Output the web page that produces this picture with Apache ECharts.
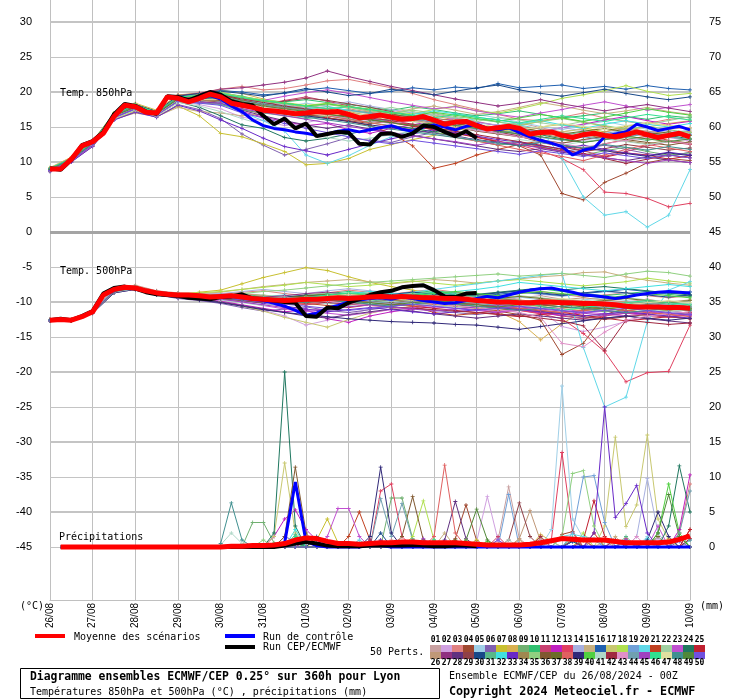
<!DOCTYPE html>
<html><head><meta charset="utf-8">
<script src="https://cdn.jsdelivr.net/npm/echarts@6/dist/echarts.min.js"></script>
<style>html,body{margin:0;padding:0;background:#fff}#c{width:740px;height:700px}</style>
</head><body><div id="c"></div>
<script>
// ---------- DATA ----------
const dateLabels = ['26/08','27/08','28/08','29/08','30/08','31/08','01/09','02/09','03/09','04/09','05/09','06/09','07/09','08/09','09/09','10/09'];
const hours6 = [0,6,12,18,24,30,36,42,48,54,60,66,72,78,84,90,96,102,108,114,120,126,132,138,144,150,156,162,168,174,180,186,192,198,204,210,216,222,228,234,240,246,252,258,264,270,276,282,288,294,300,306,312,318,324,330,336,342,348,354,360];
const hours12 = [0,12,24,36,48,60,72,84,96,108,120,132,144,156,168,180,192,204,216,228,240,252,264,276,288,300,312,324,336,348,360];
const hoursPrecipMembers = [96,102,108,114,120,126,132,138,144,150,156,162,168,174,180,186,192,198,204,210,216,222,228,234,240,246,252,258,264,270,276,282,288,294,300,306,312,318,324,330,336,342,348,354,360];
const hoursPrecip = [6,12,18,24,30,36,42,48,54,60,66,72,78,84,90,96,102,108,114,120,126,132,138,144,150,156,162,168,174,180,186,192,198,204,210,216,222,228,234,240,246,252,258,264,270,276,282,288,294,300,306,312,318,324,330,336,342,348,354,360];
const tempTicks = [30,25,20,15,10,5,0,-5,-10,-15,-20,-25,-30,-35,-40,-45];
const precipTicks = [75,70,65,60,55,50,45,40,35,30,25,20,15,10,5,0];
const memberNames = ['01','02','03','04','05','06','07','08','09','10','11','12','13','14','15','16','17','18','19','20','21','22','23','24','25','26','27','28','29','30','31','32','33','34','35','36','37','38','39','40','41','42','43','44','45','46','47','48','49','50'];
const memberColors = ['#c8a0a0','#d0a0e0','#e08080','#a04830','#a0d0e8','#8060b0','#c8c030','#d8b050','#70b070','#30c070','#c84070','#c020c0','#e04060','#a8b0e0','#c8b080','#2060b0','#c8c870','#b0e050','#70a0d8','#60d8e8','#c04020','#a0d0a0','#c050d0','#207860','#c02030',
 '#c09878','#903080','#603080','#904048','#184888','#58b888','#40e0e0','#6828c8','#a08850','#90d080','#805830','#6c6c28','#e06060','#302878','#50d040','#b0d8c8','#a02840','#e090c8','#70a0b0','#a040c0','#30e090','#e0e0a0','#409090','#508838','#7050e0'];

const mean850 = [9.0,9.0,10.4,12.3,12.9,14.1,16.5,18.1,17.9,17.1,17.0,19.3,19.1,18.6,19.1,19.7,19.3,18.4,18.1,17.8,17.4,17.3,17.1,16.9,17.0,17.2,17.1,17.2,16.8,16.3,16.5,16.7,16.4,16.1,16.2,16.5,16.0,15.4,15.7,15.8,15.2,14.7,14.9,15.1,14.8,14.0,14.2,14.3,13.8,13.5,13.9,14.1,13.8,13.6,13.9,14.3,13.9,13.5,13.8,14.1,13.6];
const ctrl850 = [9.0,9.0,10.3,12.2,12.8,14.0,16.4,18.0,17.8,17.0,16.9,19.2,19.0,18.6,19.0,19.5,19.0,18.0,17.2,16.0,15.2,14.8,14.6,14.3,14.1,13.8,14.0,14.4,14.6,14.3,14.6,14.9,15.2,14.7,14.4,15.0,15.3,15.0,14.6,15.1,15.4,14.8,14.6,14.9,14.2,13.6,13.1,12.7,12.2,11.0,11.7,12.0,13.6,14.0,14.3,15.4,15.0,14.5,14.8,15.1,14.6];
const cep850 = [9.1,8.9,10.3,12.4,13.0,14.3,16.8,18.3,18.0,17.2,16.9,19.4,19.3,18.8,19.4,20.0,19.6,18.7,18.3,18.1,16.6,15.4,16.2,14.8,15.5,13.7,14.0,14.3,14.2,12.6,12.5,14.0,14.1,13.6,14.1,15.2,15.0,14.3,13.7,14.4,13.4];
const mean500 = [-12.6,-12.5,-12.6,-12.1,-11.4,-9.0,-8.2,-7.9,-8.0,-8.4,-8.7,-8.9,-9.0,-9.0,-9.1,-9.3,-9.2,-9.1,-9.3,-9.5,-9.6,-9.7,-9.8,-9.7,-9.6,-9.6,-9.5,-9.4,-9.5,-9.4,-9.3,-9.2,-9.3,-9.2,-9.3,-9.4,-9.4,-9.5,-9.5,-9.6,-9.8,-9.9,-10.0,-10.0,-10.1,-10.1,-10.0,-10.0,-10.1,-10.1,-10.2,-10.2,-10.3,-10.4,-10.6,-10.7,-10.7,-10.7,-10.8,-10.8,-10.9];
const ctrl500 = [-12.6,-12.5,-12.6,-12.1,-11.4,-9.1,-8.3,-8.0,-8.1,-8.5,-8.8,-9.0,-9.1,-9.1,-9.2,-9.4,-9.3,-9.2,-9.4,-9.6,-9.8,-10.2,-10.6,-11.2,-11.9,-11.6,-10.9,-10.5,-10.0,-9.7,-9.5,-9.4,-9.6,-9.3,-9.5,-9.8,-10.0,-10.2,-10.1,-9.8,-9.5,-9.2,-9.4,-9.0,-8.6,-8.3,-8.1,-8.0,-8.3,-8.6,-9.0,-9.1,-9.3,-9.5,-9.3,-9.0,-8.8,-8.6,-8.5,-8.6,-8.7];
const cep500 = [-12.6,-12.4,-12.6,-12.0,-11.3,-8.8,-8.0,-7.8,-8.1,-8.6,-8.9,-9.0,-9.1,-9.4,-9.5,-9.6,-9.3,-9.2,-8.9,-9.5,-9.6,-9.8,-10.0,-10.1,-12.0,-12.1,-10.8,-10.9,-10.1,-9.6,-9.0,-8.6,-8.4,-7.9,-7.7,-7.6,-8.3,-9.2,-9.3,-8.8,-8.7];
const meanPrecip = [0,0,0,0,0,0,0,0,0,0,0,0,0,0,0, 0,0.1,0.1,0.2,0.2,0.3,0.5,1.0,1.3,1.2, 0.8,0.5,0.5,0.4,0.5,0.6,0.6,0.7,0.7,0.6, 0.6,0.6,0.6,0.5,0.4,0.3,0.3,0.3,0.3,0.4, 0.6,0.9,1.2,1.1,1.0,1.0,1.0,0.8,0.6,0.6, 0.6,0.6,0.7,1.1,1.6];
const ctrlPrecip = [0,0,0,0,0,0,0,0,0,0,0,0,0,0,0,0,0,0,0,0, 0.2,0.6,9.3,0.8,0.2, 0,0,0,0,0.3,0.2,0,0,0,0, 0,0,0,0,0,0,0,0,0,0, 0,0,0,0,0,0,0,0,0,0, 0,0,0,0,0];
const cepPrecip = [0,0,0,0,0,0,0,0,0,0,0,0,0,0,0,0,0,0,0,0,0, 0.2,0.5,0.7,0.5,0.2,0.1,0.1,0.1,0.2,0.2,0.2,0.2,0.3,0.2,0.1,0.1,0.2,0.2,0.1];

const t850Members = [
[9.0,10.5,12.5,16.8,18.1,17.0,19.3,19.5,19.8,19.0,18.6,18.2,17.8,17.5,17.9,17.2,16.8,16.5,16.9,16.3,15.8,15.2,15.6,14.9,14.3,14.8,15.1,14.6,14.2,14.7,14.9],
[8.8,10.1,12.9,16.4,17.6,16.8,18.7,18.2,17.6,16.4,15.9,15.2,15.6,16.3,16.0,16.7,17.2,16.5,15.9,15.3,14.6,14.2,13.8,13.2,12.7,13.1,13.6,13.9,14.3,13.5,13.0],
[9.1,10.4,12.8,16.7,18.3,17.2,19.5,19.9,20.4,20.8,20.3,20.5,21.0,21.6,21.8,21.2,20.6,19.8,18.9,18.2,17.5,16.8,16.1,15.9,16.4,17.0,16.3,15.8,15.5,16.1,16.4],
[8.7,10.2,12.6,16.5,17.7,16.8,18.8,18.5,18.7,17.5,16.9,17.2,16.8,16.3,15.9,15.5,15.8,15.2,14.6,14.1,13.6,12.9,12.3,11.0,5.5,4.6,7.1,8.4,9.9,10.5,10.2],
[8.9,10.3,12.6,16.3,17.5,16.6,18.9,19.1,19.5,18.7,18.1,17.9,18.4,18.0,17.3,16.9,17.4,17.0,16.6,16.2,16.8,16.3,15.7,15.1,14.6,15.3,15.8,15.2,14.7,14.1,14.6],
[8.6,10.0,12.3,16.0,17.2,16.4,18.2,17.5,16.2,14.0,12.4,11.0,11.8,12.6,13.5,13.1,12.8,13.6,14.2,13.8,13.1,12.5,12.9,12.2,11.5,11.9,12.4,11.8,11.2,10.8,11.4],
[9.0,10.6,12.4,16.1,17.3,16.5,18.0,16.6,14.1,13.6,12.6,11.5,9.6,9.8,10.5,11.8,12.5,13.2,13.8,14.5,15.0,14.6,14.2,15.0,15.4,14.9,14.3,15.1,15.6,15.2,14.8],
[9.2,10.7,13.0,17.0,18.4,17.4,19.6,19.8,20.3,19.8,19.0,18.4,17.6,17.9,17.2,16.6,15.8,16.1,16.6,16.0,15.3,14.8,15.2,15.8,16.3,15.7,15.1,14.6,15.0,15.5,15.9],
[8.8,10.3,12.7,16.6,17.8,16.9,19.1,19.3,19.6,18.4,17.6,17.0,16.5,16.8,16.2,15.6,15.2,14.8,14.3,13.6,13.0,12.4,12.8,12.2,11.6,11.0,11.6,12.1,11.5,11.0,11.3],
[9.0,10.4,12.8,16.8,18.0,17.1,19.2,19.5,19.9,19.4,18.8,18.6,18.9,18.5,18.2,17.8,17.4,17.9,17.5,17.0,16.6,16.9,17.3,16.8,16.3,16.6,17.0,16.5,16.1,16.6,16.3],
[8.9,10.3,12.6,16.5,17.9,16.8,19.0,19.0,19.4,18.5,18.2,18.8,19.3,18.7,18.0,17.4,16.9,16.2,15.6,15.9,15.1,14.6,13.9,13.2,12.4,11.6,10.8,11.5,12.3,12.9,12.5],
[8.8,10.2,12.5,16.4,17.6,16.7,18.8,18.6,18.3,17.2,16.4,15.8,15.2,15.5,14.6,14.1,14.8,15.3,15.9,16.2,15.7,15.2,14.8,14.3,14.9,15.4,16.0,16.5,15.9,15.4,15.8],
[8.9,10.4,12.7,16.7,18.0,17.0,19.1,19.2,19.0,18.3,17.6,17.3,16.9,16.4,16.8,16.2,15.8,15.3,14.7,14.2,13.6,13.0,12.4,11.6,10.5,8.9,5.7,5.5,4.8,3.6,4.1],
[9.0,10.5,12.8,16.9,18.2,17.1,19.4,19.6,19.8,19.1,18.5,18.1,17.7,18.2,18.6,18.0,17.5,17.0,16.7,16.2,15.6,15.3,14.8,14.4,14.9,14.5,14.0,13.6,14.1,14.5,14.0],
[8.7,10.1,12.2,16.1,17.0,16.5,17.8,17.2,17.0,16.6,16.9,17.5,18.1,17.6,17.0,16.5,17.0,17.6,18.0,17.4,16.8,17.2,17.8,18.5,18.0,17.4,16.9,17.3,17.8,17.2,16.8],
[9.0,10.4,12.9,16.8,18.2,17.2,19.4,19.7,20.2,20.0,19.6,19.8,20.3,20.6,20.2,19.8,20.1,20.6,20.3,20.7,20.5,21.2,20.6,20.8,21.0,20.5,20.8,20.4,20.9,20.5,20.3],
[8.9,10.3,12.6,16.4,17.7,16.8,18.9,18.8,18.9,18.0,17.5,17.7,17.3,16.9,17.4,16.9,16.5,16.0,15.5,15.8,15.3,14.7,14.2,13.8,14.3,14.7,14.1,13.7,13.3,13.8,14.2],
[9.1,10.5,12.9,17.0,18.3,17.3,19.5,19.7,20.0,19.3,18.9,18.5,18.1,18.4,17.9,17.6,17.1,16.9,17.5,18.0,17.3,17.0,17.6,18.3,19.1,19.6,20.2,20.9,20.1,19.5,19.8],
[8.8,10.2,12.4,16.3,17.5,16.6,18.6,18.4,18.6,17.8,17.3,16.8,16.4,16.9,16.5,16.1,15.9,16.3,15.8,15.3,14.7,14.4,14.0,13.5,13.1,13.6,14.1,14.5,14.0,13.6,13.9],
[9.0,10.4,12.7,16.6,17.8,16.8,18.9,18.6,18.3,17.1,15.9,14.4,11.0,9.8,10.9,12.4,13.6,14.5,15.1,15.6,16.2,15.7,15.3,14.7,10.5,5.0,2.4,2.9,0.7,2.4,8.9],
[8.9,10.3,12.6,16.6,17.9,16.9,19.0,19.0,19.1,18.2,17.7,17.3,16.8,16.3,15.8,15.2,14.1,12.3,9.1,9.8,11.0,11.8,12.5,13.0,12.4,11.9,12.6,13.2,13.7,13.1,12.6],
[9.1,10.6,12.9,16.8,18.1,17.2,19.3,19.4,19.6,18.8,18.3,17.9,17.5,17.2,16.8,17.3,17.8,17.2,16.7,16.3,15.8,16.4,16.0,15.6,15.2,15.8,16.3,15.8,15.4,15.9,16.5],
[8.8,10.2,12.5,16.5,17.6,16.7,18.8,18.9,19.3,18.5,18.8,19.4,19.9,20.3,19.8,19.2,18.6,18.1,17.6,17.9,17.3,16.8,16.4,17.0,17.5,18.1,18.6,18.0,17.4,17.8,18.2],
[8.9,10.3,12.7,16.6,17.8,16.9,18.6,17.8,16.6,15.3,14.8,13.5,13.0,13.4,14.0,14.6,15.2,14.8,14.3,14.8,15.3,14.9,14.4,13.9,13.3,12.8,13.3,13.8,14.2,13.8,13.3],
[9.0,10.4,12.8,16.7,18.0,17.1,19.2,19.3,19.5,18.9,18.3,17.8,17.4,16.9,16.5,16.1,15.6,15.1,14.6,14.1,13.5,12.9,12.5,12.1,11.6,11.2,10.7,11.3,11.0,10.4,10.9],
[8.8,10.2,12.3,16.2,17.4,16.6,18.5,18.7,19.0,18.4,17.9,17.3,16.8,17.2,17.6,17.1,16.7,16.3,15.9,15.5,15.0,14.6,15.1,14.7,14.2,13.8,14.3,14.8,14.4,14.0,14.4],
[9.0,10.5,12.8,16.9,18.2,17.2,19.5,19.8,20.4,20.6,21.0,21.4,22.0,23.0,22.2,21.5,20.8,20.2,19.6,19.0,18.5,18.0,18.4,18.9,18.3,17.8,17.3,17.8,18.2,17.7,17.2],
[8.9,10.3,12.6,16.5,17.8,16.8,18.9,18.6,18.4,17.4,16.6,15.9,15.3,14.8,15.3,14.7,14.2,13.8,13.3,12.8,12.3,11.8,11.5,11.9,11.4,11.0,10.6,10.2,10.7,10.3,9.9],
[8.9,10.4,12.7,16.6,18.0,17.0,19.1,19.2,19.4,18.7,18.2,18.7,19.1,18.8,18.3,17.8,17.2,16.6,16.0,15.5,14.9,14.3,13.7,12.8,12.2,11.5,11.9,12.5,12.1,11.7,12.0],
[9.0,10.5,12.9,16.9,18.2,17.2,19.4,19.8,20.1,19.8,19.4,19.9,20.5,20.0,19.5,19.8,20.4,20.0,19.6,20.1,20.6,21.0,20.3,19.8,19.4,19.9,20.4,19.8,19.3,18.9,19.3],
[8.8,10.2,12.5,16.3,17.5,16.7,18.7,18.5,18.2,17.5,17.0,16.6,16.2,16.6,16.1,15.7,16.2,15.8,15.4,15.0,14.5,14.1,14.6,14.2,13.8,14.3,14.0,13.5,13.1,13.6,13.2],
[9.0,10.4,12.8,16.7,18.0,17.0,19.2,19.3,19.7,19.0,18.4,18.0,17.6,17.9,17.4,17.0,16.5,16.8,17.3,16.9,16.4,16.0,15.5,15.9,15.3,14.8,15.4,15.9,15.4,15.0,15.5],
[8.7,10.0,12.2,16.0,17.1,16.4,18.1,17.3,16.0,14.8,13.4,12.2,11.6,11.0,11.8,12.6,13.3,14.0,14.6,14.2,13.7,13.2,12.8,12.3,11.9,12.4,11.8,11.3,10.9,11.4,11.0],
[8.9,10.3,12.6,16.6,17.9,16.9,19.0,19.1,19.3,18.6,18.1,17.7,17.3,17.6,17.0,16.6,16.2,15.8,16.3,15.8,15.3,14.9,14.4,14.0,13.5,13.9,13.4,13.0,12.6,13.1,12.7],
[9.1,10.5,12.9,16.8,18.1,17.1,19.3,19.5,19.9,19.2,18.7,18.3,17.9,18.2,17.8,17.3,16.9,17.4,17.0,16.5,16.1,15.7,15.3,15.8,16.2,15.7,15.2,14.7,15.1,14.6,14.2],
[8.8,10.2,12.5,16.4,17.7,16.8,18.9,18.9,18.8,17.9,17.4,17.0,16.6,16.9,16.5,16.0,15.6,15.9,15.4,15.0,14.4,14.0,13.6,13.1,12.7,13.2,13.7,13.2,12.8,12.4,12.9],
[9.0,10.4,12.7,16.7,18.0,17.0,19.1,19.2,19.5,18.8,18.2,17.9,17.5,17.1,16.7,16.3,16.8,16.4,15.9,15.5,15.0,14.5,14.9,14.4,14.0,14.4,14.8,14.3,13.9,14.3,13.8],
[8.9,10.3,12.6,16.5,17.8,16.9,19.0,19.1,19.3,18.5,18.0,17.5,17.0,16.6,16.1,15.6,15.1,14.6,14.0,13.5,13.0,12.4,11.8,11.3,10.8,10.2,11.0,11.8,12.5,12.0,11.5],
[8.9,10.3,12.7,16.6,17.9,16.9,19.0,19.0,19.1,18.2,17.5,17.0,16.6,16.2,15.8,15.3,14.9,14.5,14.1,13.6,13.2,12.8,12.3,12.8,12.4,12.0,11.6,11.2,10.8,11.3,10.9],
[9.0,10.5,12.8,16.8,18.1,17.1,19.3,19.4,19.7,19.1,18.7,18.4,18.0,18.3,17.9,17.5,17.0,16.6,17.1,16.7,16.2,15.8,16.3,16.8,16.3,15.8,16.4,17.0,17.6,17.1,16.7],
[8.8,10.2,12.4,16.2,17.4,16.6,18.5,18.0,17.2,16.2,15.3,14.6,14.0,13.5,13.0,13.4,13.9,14.4,14.0,13.6,13.1,12.7,13.2,12.8,12.4,12.9,13.3,12.9,12.5,12.9,13.4],
[9.0,10.4,12.8,16.7,18.0,17.0,19.1,19.3,19.6,19.0,18.5,18.0,17.6,17.2,16.8,16.3,15.9,15.4,14.9,14.4,13.9,13.4,12.9,12.4,11.8,11.2,10.5,9.8,10.4,11.0,10.6],
[8.9,10.3,12.6,16.6,17.9,16.9,19.0,19.0,19.2,18.4,17.9,17.5,17.1,16.7,16.3,15.9,15.5,15.9,15.4,15.0,14.5,14.1,13.6,13.1,12.6,12.1,12.6,13.1,13.5,13.0,12.6],
[9.0,10.4,12.7,16.6,17.9,16.9,19.1,19.1,19.4,18.7,18.2,17.8,17.4,17.0,17.4,17.0,16.5,16.1,15.7,15.3,14.8,14.4,14.0,14.4,14.0,13.6,13.2,13.6,14.0,13.6,13.2],
[8.8,10.1,12.4,16.3,17.6,16.7,18.7,18.5,18.4,17.6,17.1,16.6,16.1,15.6,15.1,14.6,14.2,13.7,13.3,12.9,12.4,12.9,12.5,12.0,11.5,11.1,10.6,10.2,9.8,10.3,9.9],
[9.1,10.5,12.8,16.8,18.1,17.1,19.3,19.5,19.8,19.2,18.8,18.4,18.0,17.6,17.9,17.5,17.1,16.7,16.3,16.8,16.4,16.0,15.6,16.1,16.6,16.2,15.8,16.3,16.8,16.4,16.0],
[8.9,10.3,12.6,16.5,17.8,16.8,18.9,18.9,19.0,18.3,17.8,17.4,17.0,16.6,17.0,16.6,16.2,15.8,15.4,15.0,15.4,15.0,14.6,15.0,15.5,15.1,14.7,15.2,15.6,15.2,14.8],
[9.0,10.4,12.7,16.6,17.9,16.9,19.0,19.0,19.2,18.3,17.5,16.9,16.4,16.0,15.6,15.1,14.7,14.3,13.9,13.5,13.1,12.7,12.3,12.8,12.4,12.0,12.5,12.1,11.7,12.2,11.8],
[8.9,10.3,12.6,16.6,17.8,16.9,19.0,19.1,19.3,18.6,18.0,17.6,17.2,16.8,16.4,16.0,15.6,15.2,15.6,15.2,14.8,14.4,14.0,13.6,13.2,12.8,13.2,13.7,13.3,12.9,13.3],
[8.8,10.2,12.5,16.4,17.6,16.7,18.7,18.4,18.1,17.0,16.3,15.5,14.8,14.2,13.6,13.0,12.6,13.1,12.7,12.3,11.9,11.5,11.1,11.6,11.2,10.8,11.3,10.9,10.5,11.0,10.6]
];

const t500Members = [
[-12.5,-12.6,-11.3,-8.3,-7.7,-8.5,-8.8,-9.0,-9.3,-9.0,-9.4,-9.6,-9.2,-9.0,-8.8,-9.1,-9.4,-9.0,-8.7,-9.2,-9.5,-9.8,-9.4,-9.1,-9.6,-9.9,-10.3,-10.0,-9.6,-10.1,-10.4],
[-12.7,-12.5,-11.5,-8.6,-8.0,-8.8,-9.2,-9.4,-9.8,-10.5,-11.2,-12.0,-13.3,-12.6,-11.8,-11.0,-10.5,-10.2,-9.9,-10.3,-10.6,-10.2,-10.8,-11.2,-13.5,-14.2,-13.6,-12.8,-12.2,-11.6,-11.9],
[-12.6,-12.7,-11.4,-8.2,-7.6,-8.4,-8.7,-8.8,-8.9,-8.6,-8.4,-8.8,-9.1,-8.7,-8.3,-8.6,-8.9,-8.5,-8.2,-8.6,-8.9,-9.2,-8.8,-8.5,-8.9,-9.3,-9.0,-8.7,-9.1,-9.4,-9.1],
[-12.6,-12.5,-11.4,-8.4,-7.9,-8.7,-9.0,-9.1,-9.3,-9.5,-9.8,-10.0,-9.7,-9.9,-10.2,-10.0,-9.7,-10.0,-10.3,-10.6,-10.9,-11.3,-11.8,-12.6,-17.5,-15.9,-11.8,-10.9,-10.5,-10.8,-11.1],
[-12.5,-12.6,-11.3,-8.3,-7.8,-8.6,-8.9,-9.0,-9.1,-9.2,-9.5,-9.7,-9.5,-9.3,-9.0,-8.8,-9.1,-9.4,-9.2,-9.5,-9.8,-9.6,-9.3,-9.7,-10.0,-9.7,-9.4,-9.8,-10.1,-10.4,-10.2],
[-12.7,-12.7,-11.6,-8.7,-8.2,-9.0,-9.5,-9.8,-10.2,-10.8,-11.3,-11.0,-10.7,-11.2,-11.5,-11.1,-10.7,-10.9,-11.2,-11.5,-11.8,-11.4,-11.0,-11.5,-11.9,-12.3,-11.8,-11.4,-11.8,-12.1,-11.7],
[-12.6,-12.6,-11.4,-8.5,-8.1,-8.8,-9.0,-8.6,-8.3,-7.4,-6.5,-5.8,-5.1,-5.5,-6.4,-7.2,-7.8,-8.3,-8.9,-9.4,-9.7,-9.9,-10.2,-10.5,-10.3,-10.6,-10.9,-11.2,-11.0,-10.7,-11.0],
[-12.5,-12.6,-11.3,-8.3,-7.8,-8.6,-8.9,-9.1,-9.2,-9.4,-9.7,-9.5,-9.3,-9.6,-9.8,-9.5,-9.2,-9.5,-9.9,-10.2,-10.6,-11.4,-12.8,-15.4,-13.1,-11.3,-10.6,-10.3,-10.7,-11.0,-10.8],
[-12.6,-12.7,-11.5,-8.5,-8.0,-8.8,-9.1,-9.2,-9.4,-9.6,-9.9,-10.2,-10.0,-9.7,-9.9,-10.2,-10.5,-10.3,-10.0,-10.3,-10.6,-10.9,-10.6,-10.3,-10.7,-11.0,-11.4,-11.2,-10.9,-11.3,-11.6],
[-12.6,-12.5,-11.3,-8.3,-7.8,-8.6,-8.9,-9.0,-9.0,-8.9,-9.2,-9.4,-9.1,-8.8,-8.5,-8.8,-9.0,-8.7,-8.4,-8.7,-9.0,-8.7,-8.4,-8.1,-8.5,-8.8,-9.1,-8.8,-8.5,-8.9,-9.2],
[-12.7,-12.6,-11.5,-8.4,-7.9,-8.7,-9.0,-9.2,-9.3,-9.5,-9.8,-10.1,-10.4,-10.1,-9.8,-9.5,-9.2,-9.5,-9.8,-10.1,-10.4,-10.7,-11.1,-11.5,-12.0,-12.4,-12.0,-11.6,-11.9,-12.2,-11.8],
[-12.6,-12.6,-11.4,-8.5,-8.0,-8.8,-9.2,-9.5,-9.9,-10.4,-10.9,-11.4,-11.1,-12.4,-12.9,-12.0,-11.4,-11.0,-10.7,-10.9,-11.2,-11.5,-11.2,-11.6,-11.9,-11.5,-11.2,-11.5,-11.8,-12.1,-11.7],
[-12.6,-12.6,-11.4,-8.4,-7.9,-8.7,-9.0,-9.1,-9.2,-9.3,-9.6,-9.8,-9.5,-9.7,-9.9,-9.6,-9.3,-9.6,-9.9,-10.2,-10.5,-10.8,-11.2,-11.7,-12.4,-14.5,-17.1,-21.4,-20.1,-19.9,-13.3],
[-12.5,-12.6,-11.3,-8.2,-7.7,-8.5,-8.8,-8.9,-8.8,-8.5,-8.2,-8.5,-8.8,-8.4,-8.1,-8.4,-8.7,-8.9,-8.6,-8.9,-9.2,-8.9,-8.6,-8.9,-9.2,-8.8,-8.5,-8.8,-9.1,-8.8,-8.5],
[-12.6,-12.7,-11.4,-8.3,-7.8,-8.6,-8.9,-8.8,-8.6,-8.2,-7.8,-7.5,-7.2,-7.0,-6.8,-7.1,-7.4,-7.1,-6.8,-7.0,-7.3,-7.0,-6.7,-6.4,-6.2,-5.8,-5.7,-6.4,-6.9,-7.3,-7.6],
[-12.6,-12.6,-11.4,-8.4,-7.9,-8.7,-9.0,-9.1,-9.3,-9.6,-9.9,-9.7,-9.4,-9.1,-9.3,-9.6,-9.3,-9.0,-8.7,-8.9,-9.2,-8.9,-8.6,-8.8,-9.1,-8.8,-8.5,-8.2,-8.5,-8.8,-8.6],
[-12.7,-12.6,-11.5,-8.6,-8.1,-8.9,-9.3,-9.6,-10.0,-10.6,-11.3,-12.2,-12.9,-13.6,-12.5,-11.6,-11.0,-10.6,-10.3,-10.6,-10.9,-11.2,-10.9,-10.6,-10.9,-11.2,-10.9,-10.6,-10.9,-11.2,-10.9],
[-12.6,-12.6,-11.4,-8.3,-7.7,-8.5,-8.8,-8.7,-8.5,-8.2,-7.9,-7.6,-7.2,-7.5,-7.8,-7.6,-7.3,-7.0,-7.3,-7.6,-7.3,-7.0,-6.8,-7.1,-7.4,-7.7,-7.4,-7.1,-6.6,-7.0,-7.3],
[-12.6,-12.5,-11.3,-8.3,-7.8,-8.6,-8.9,-9.0,-9.1,-9.2,-9.4,-9.6,-9.8,-9.5,-9.2,-9.5,-9.8,-10.1,-9.8,-9.5,-9.8,-10.1,-10.4,-10.1,-9.8,-10.1,-10.4,-10.7,-10.4,-10.1,-10.4],
[-12.6,-12.6,-11.4,-8.4,-7.9,-8.7,-9.0,-9.1,-9.3,-9.5,-9.2,-9.0,-9.6,-10.2,-9.8,-9.4,-9.0,-8.6,-8.2,-7.8,-7.4,-7.0,-6.6,-6.2,-5.9,-16.5,-25.0,-23.6,-12.8,-8.3,-7.1],
[-12.6,-12.6,-11.4,-8.4,-7.9,-8.7,-9.0,-9.1,-9.2,-9.4,-9.7,-9.9,-10.2,-10.5,-10.8,-10.4,-10.0,-10.6,-11.5,-11.9,-11.6,-11.2,-10.9,-11.2,-11.5,-11.2,-10.9,-11.2,-11.5,-11.8,-11.5],
[-12.5,-12.6,-11.3,-8.2,-7.7,-8.5,-8.8,-8.9,-9.0,-8.8,-9.0,-9.3,-9.0,-8.7,-9.0,-9.3,-9.1,-8.8,-9.1,-9.4,-9.7,-9.4,-9.1,-9.4,-9.7,-10.0,-9.7,-9.4,-9.7,-10.0,-10.3],
[-12.6,-12.7,-11.5,-8.5,-8.0,-8.8,-9.1,-9.3,-9.6,-10.0,-10.5,-11.0,-11.3,-11.6,-11.9,-11.5,-11.1,-10.8,-10.5,-10.8,-11.1,-11.4,-11.0,-10.7,-11.0,-11.4,-11.7,-12.0,-11.6,-11.3,-11.6],
[-12.6,-12.6,-11.4,-8.4,-7.9,-8.7,-9.0,-9.2,-9.3,-9.5,-9.7,-9.9,-10.1,-9.8,-9.5,-9.2,-8.9,-9.2,-9.5,-9.2,-8.9,-8.6,-8.3,-8.0,-8.3,-8.0,-7.8,-8.1,-8.4,-8.7,-9.0],
[-12.6,-12.5,-11.3,-8.3,-7.8,-8.6,-8.9,-9.0,-9.1,-9.3,-9.6,-9.9,-10.2,-10.0,-9.7,-10.0,-10.3,-10.6,-10.9,-11.2,-11.5,-11.8,-12.1,-11.8,-11.5,-11.9,-12.3,-12.7,-12.4,-12.1,-12.4],
[-12.7,-12.6,-11.4,-8.4,-7.9,-8.7,-9.0,-9.1,-9.0,-8.8,-9.1,-9.4,-9.7,-9.4,-9.1,-8.8,-9.1,-9.4,-9.7,-9.4,-9.1,-9.4,-9.7,-10.0,-9.7,-9.4,-9.7,-10.0,-10.3,-10.0,-9.7],
[-12.6,-12.6,-11.4,-8.3,-7.8,-8.5,-8.8,-8.9,-9.0,-9.1,-9.3,-9.1,-8.8,-8.6,-8.9,-9.2,-9.5,-9.8,-10.1,-9.8,-9.5,-9.8,-10.1,-10.4,-10.1,-9.8,-10.1,-10.4,-10.7,-11.0,-10.7],
[-12.6,-12.7,-11.5,-8.6,-8.1,-8.9,-9.3,-9.6,-10.0,-10.5,-11.0,-11.5,-12.0,-12.3,-11.8,-11.4,-11.0,-11.3,-11.7,-12.0,-12.3,-12.0,-11.7,-12.0,-12.3,-12.6,-12.3,-12.0,-12.4,-12.7,-13.0],
[-12.5,-12.6,-11.3,-8.3,-7.8,-8.6,-8.9,-9.0,-9.1,-9.3,-9.6,-9.4,-9.1,-9.4,-9.7,-10.0,-10.3,-10.0,-9.7,-10.0,-10.3,-10.6,-10.9,-11.3,-11.7,-12.1,-12.5,-12.1,-11.8,-12.1,-12.4],
[-12.6,-12.6,-11.4,-8.4,-7.9,-8.7,-9.0,-9.1,-9.2,-9.3,-9.5,-9.3,-9.0,-9.2,-9.5,-9.2,-8.9,-8.6,-8.9,-9.2,-9.0,-8.7,-8.4,-8.7,-9.0,-8.7,-8.4,-8.7,-9.0,-9.3,-9.0],
[-12.6,-12.5,-11.3,-8.3,-7.8,-8.6,-8.9,-9.0,-9.2,-9.4,-9.6,-9.8,-10.0,-9.7,-9.4,-9.7,-10.0,-9.7,-9.4,-9.7,-10.0,-10.3,-10.0,-9.7,-10.0,-10.3,-10.6,-10.3,-10.0,-10.3,-10.6],
[-12.6,-12.6,-11.4,-8.4,-7.9,-8.7,-9.0,-9.1,-9.2,-9.3,-9.5,-9.7,-9.4,-9.1,-8.8,-8.5,-8.8,-9.1,-8.8,-8.5,-8.2,-7.8,-7.2,-7.5,-7.8,-8.1,-8.4,-8.1,-7.8,-7.5,-7.8],
[-12.7,-12.6,-11.5,-8.5,-8.0,-8.8,-9.1,-9.3,-9.5,-9.8,-10.2,-10.6,-11.0,-11.4,-11.1,-10.8,-11.1,-11.4,-11.7,-11.4,-11.1,-10.8,-11.1,-11.4,-11.7,-12.0,-11.7,-11.4,-11.7,-12.0,-12.3],
[-12.5,-12.6,-11.3,-8.3,-7.8,-8.6,-8.9,-9.0,-9.1,-9.2,-9.4,-9.6,-9.8,-10.0,-9.7,-9.4,-9.7,-10.0,-10.3,-10.0,-9.7,-10.0,-10.3,-10.6,-10.3,-10.0,-10.3,-10.6,-10.9,-11.2,-10.9],
[-12.6,-12.6,-11.4,-8.3,-7.8,-8.6,-8.9,-9.0,-9.0,-8.8,-8.5,-8.3,-8.0,-7.7,-7.4,-7.2,-7.0,-6.8,-6.6,-6.4,-6.2,-6.0,-6.3,-6.1,-5.9,-6.2,-6.5,-6.0,-5.6,-5.8,-6.3],
[-12.6,-12.7,-11.5,-8.4,-7.9,-8.7,-9.1,-9.3,-9.5,-9.8,-10.1,-9.8,-9.5,-9.8,-10.1,-10.4,-10.1,-9.8,-10.1,-10.4,-10.7,-10.4,-10.1,-10.4,-10.7,-11.0,-10.7,-10.4,-10.7,-11.0,-11.3],
[-12.6,-12.6,-11.4,-8.4,-7.9,-8.7,-9.0,-9.1,-9.2,-9.4,-9.6,-9.4,-9.1,-8.9,-9.2,-9.5,-9.2,-8.9,-9.2,-9.5,-9.8,-9.5,-9.2,-9.5,-9.8,-10.1,-9.8,-9.5,-9.8,-10.1,-9.8],
[-12.6,-12.5,-11.3,-8.3,-7.8,-8.6,-8.9,-9.0,-9.2,-9.4,-9.7,-10.0,-10.3,-10.0,-9.7,-10.0,-10.3,-10.6,-10.3,-10.0,-10.3,-10.6,-10.9,-11.2,-11.5,-11.2,-10.9,-11.2,-11.5,-11.8,-12.1],
[-12.7,-12.7,-11.6,-8.7,-8.2,-9.0,-9.4,-9.7,-10.1,-10.6,-11.1,-11.5,-11.8,-12.1,-12.4,-12.6,-12.8,-12.9,-13.0,-13.2,-13.3,-13.6,-13.9,-13.5,-13.1,-12.7,-12.3,-12.0,-12.3,-12.6,-12.3],
[-12.6,-12.6,-11.4,-8.4,-7.9,-8.7,-9.0,-9.1,-9.2,-9.2,-9.4,-9.6,-9.4,-9.1,-8.8,-9.1,-9.4,-9.1,-8.8,-8.5,-8.8,-9.1,-8.8,-8.5,-8.8,-9.1,-9.4,-9.1,-8.8,-9.1,-9.4],
[-12.6,-12.6,-11.5,-8.6,-8.1,-8.9,-9.2,-9.4,-9.7,-10.1,-10.5,-10.2,-9.9,-10.2,-10.5,-10.2,-9.9,-10.2,-10.5,-10.8,-10.5,-10.2,-10.5,-10.8,-11.1,-10.8,-10.5,-10.8,-11.1,-11.4,-11.1],
[-12.6,-12.6,-11.4,-8.4,-7.9,-8.7,-9.0,-9.1,-9.2,-9.3,-9.5,-9.7,-9.9,-10.1,-10.3,-10.5,-10.7,-10.9,-11.1,-11.3,-11.5,-11.7,-12.0,-12.3,-12.7,-13.4,-16.9,-12.6,-12.9,-13.2,-13.0],
[-12.5,-12.6,-11.3,-8.3,-7.8,-8.6,-8.9,-9.0,-9.1,-9.3,-9.5,-9.3,-9.6,-9.9,-10.2,-10.5,-10.2,-9.9,-10.2,-10.5,-10.8,-11.1,-11.5,-12.2,-15.9,-16.4,-14.3,-12.6,-12.0,-11.7,-11.4],
[-12.6,-12.6,-11.4,-8.4,-7.9,-8.7,-9.0,-9.1,-9.2,-9.4,-9.6,-9.8,-9.6,-9.3,-9.6,-9.9,-10.2,-9.9,-9.6,-9.9,-10.2,-10.5,-10.2,-9.9,-10.2,-10.5,-10.8,-10.5,-10.2,-10.5,-10.8],
[-12.7,-12.6,-11.5,-8.5,-8.0,-8.8,-9.1,-9.3,-9.6,-10.0,-10.4,-10.8,-11.2,-11.0,-10.7,-10.4,-10.7,-11.0,-11.3,-11.0,-10.7,-10.4,-10.7,-11.0,-11.3,-11.6,-11.9,-11.6,-11.3,-11.6,-11.9],
[-12.6,-12.6,-11.4,-8.3,-7.8,-8.6,-8.9,-9.0,-9.1,-9.1,-9.3,-9.5,-9.3,-9.0,-8.7,-8.9,-9.2,-8.9,-8.6,-8.9,-9.2,-9.5,-9.8,-10.6,-11.2,-10.8,-10.4,-10.1,-9.8,-10.1,-10.4],
[-12.6,-12.5,-11.3,-8.3,-7.8,-8.6,-8.9,-9.0,-9.1,-9.3,-9.5,-9.7,-9.5,-9.2,-8.9,-9.2,-9.5,-9.8,-9.5,-9.2,-9.5,-9.8,-10.1,-9.8,-9.5,-9.8,-10.1,-10.4,-10.1,-9.8,-10.1],
[-12.6,-12.6,-11.4,-8.4,-7.9,-8.7,-9.0,-9.1,-9.3,-9.6,-9.9,-10.2,-10.0,-9.7,-10.0,-10.3,-10.6,-10.3,-10.0,-10.3,-10.6,-10.9,-11.2,-10.9,-10.6,-10.9,-11.2,-11.5,-11.2,-10.9,-11.2],
[-12.6,-12.7,-11.5,-8.5,-8.0,-8.8,-9.1,-9.3,-9.5,-9.7,-9.9,-10.1,-9.8,-9.5,-9.8,-10.1,-10.4,-10.1,-9.8,-10.1,-10.4,-10.7,-10.4,-10.1,-10.4,-10.7,-11.0,-10.7,-10.4,-10.7,-11.0],
[-12.6,-12.6,-11.4,-8.4,-7.9,-8.7,-9.0,-9.2,-9.4,-9.7,-10.0,-10.3,-10.6,-10.9,-11.2,-10.9,-10.6,-10.3,-10.6,-10.9,-11.2,-10.9,-10.6,-10.9,-11.2,-11.5,-11.2,-10.9,-11.2,-11.5,-11.8]
];

const precipMembers = [
[0,0,0,0,0, 0,0,0,0,0, .5,0,0,0,0, 0,0,0,0,0, .4,0,0,0,0, 0,1,8.6,1.2,0, 0,0,0,0,0, 0,.8,0,0,0, .6,0,0,0,0],
[0,0,0,0,0, 0,0,0,0,0, 0,0,0,0,0, .6,0,0,0,0, 0,0,0,0,.8, 7.2,1,0,0,0, 0,0,0,0,0, 0,0,0,0,0, 0,1.2,0,0,0],
[0,0,0,0,0, 0,0,.8,0,0, 0,0,0,0,0, 0,1,0,0,0, 0,0,0,0,0, 0,0,0,0,0, 0,0,0,.9,0, 0,0,0,0,0, 0,0,0,2,9],
[0,0,0,0,0, 0,0,.6,0,0, 0,0,0,0,0, 0,0,0,0,0, 0,0,1.2,6,.9, 0,0,0,0,0, 0,0,1.8,2.2,0, 0,0,0,0,0, 0,0,0,0,0],
[0,0,0,0,0, 0,0,0,0,0, 0,0,.6,0,0, 0,0,0,0,0, 0,0,0,0,0, 0,0,0,0,0, 0,2.5,23,4,1.2, 0,0,0,0,0, 1.5,0,0,0,0],
[0,0,0,0,0, 0,1.5,.8,0,0, 0,0,0,0,0, 0,0,0,0,0, .6,0,0,0,0, 0,0,0,0,0, 0,0,0,0,0, 1,0,0,0,0, 0,0,0,.8,0],
[0,0,0,0,0, 0,0,0,0,1, 4,.6,0,0,0, 0,0,0,0,0, 0,0,0,0,1, 0,0,0,0,0, 0,0,0,0,.9, 0,0,0,0,0, 0,0,0,0,0],
[0,0,0,0,0, 0,0,0,0,0, 0,0,0,0,0, 1,0,0,0,0, 0,0,0,0,0, 0,0,0,0,0, 1.8,.8,0,0,0, 0,0,0,0,0, 0,0,1.2,0,0],
[0,0,0,3.5,3.5, .6,0,0,0,0, 0,0,0,0,0, 0,7,7,1.2,0, 0,0,0,0,0, 0,0,0,0,0, 0,0,0,0,0, 0,0,0,.8,0, 0,0,0,0,0],
[0,0,0,0,0, 0,0,.5,0,0, 0,0,0,0,0, 0,0,0,0,.7, 0,0,0,0,0, 0,0,0,0,0, 0,0,0,1.4,0, 0,0,0,0,0, 0,0,0,0,1],
[0,0,0,0,0, 0,0,0,.8,0, 0,0,0,0,0, 0,0,0,0,0, 0,0,0,0,0, 0,1.5,0,0,0, 0,0,0,0,0, 0,0,1.1,0,0, 0,0,0,0,0],
[0,0,0,0,0, 1.5,4,5.3,2.5,1, 0,0,0,0,0, 0,0,0,0,0, 0,0,0,0,0, 0,0,0,0,0, 0,0,0,0,0, 0,0,0,0,0, 0,0,0,2.5,10.3],
[0,0,0,0,0, 0,0,0,0,0, 0,0,0,0,0, 8,9,1.5,0,0, 0,0,0,0,0, 0,0,0,0,0, 0,1,13.5,2,0, 0,0,0,1.2,0, 0,0,0,0,0],
[0,0,0,0,0, 0,0,0,0,0, 0,0,.5,0,0, 0,0,0,0,0, 0,0,0,0,0, 0,0,0,0,0, 0,0,0,0,0, 0,0,0,0,1.5, 9.8,2,0,0,0],
[0,0,0,0,0, 0,0,0,0,0, 0,0,0,0,0, 0,0,0,0,0, 0,2,0,0,0, 0,0,0,1,0, 0,0,0,0,0, 0,0,1.5,0,0, 0,0,0,0,0],
[0,0,0,0,0, 0,0,1,0,0, 0,0,0,0,0, 0,0,0,0,0, 0,0,0,0,0, 0,0,0,0,0, 0,0,0,.8,0, 0,0,0,0,0, 0,0,0,0,0],
[0,0,0,0,0, 1.5,12,2,0,0, 0,0,0,0,0, 0,0,0,0,0, 0,0,0,0,0, 0,0,0,0,0, 0,0,0,0,0, 0,3,15.7,2.9,6, 16,4,1,0,0],
[0,0,0,0,0, 0,0,0,0,0, 0,0,0,0,0, 0,0,0,1.5,6.6, 1,0,0,0,0, 0,0,0,0,0, 0,0,0,0,2, 0,0,0,0,0, 0,0,0,0,0],
[0,0,0,0,0, 0,0,0,0,0, 0,0,0,0,0, 0,0,0,0,0, 0,0,0,0,0, 0,0,7.5,0,0, 0,0,0,2,10, 10.2,3.5,0,0,0, 0,0,0,0,1],
[0,0,0,0,0, 0,0,0,0,0, 0,0,0,1,0, 0,0,0,0,0, 0,0,0,0,0, 0,0,0,0,0, 0,0,1.5,1.8,1.5, 1.2,0,0,0,0, 0,0,0,0,0],
[0,0,0,0,0, 0,0,0,0,0, 0,0,1.5,5,1, 0,0,0,0,0, 0,0,0,0,0, 0,0,0,0,0, 0,0,0,0,0, 2,0,0,0,0, 0,0,0,0,2.5],
[0,0,0,0,0, 0,0,0,0,0, 0,0,0,0,0, 0,0,0,0,0, 1,0,0,0,0, 0,0,0,0,0, 0,.8,0,0,0, 0,0,0,0,0, 0,0,0,0,0],
[0,0,0,0,0, 0,0,0,0,0, 1.5,5.5,5.5,1.5,0, 0,0,0,0,0, 0,0,0,0,0, 0,0,0,0,0, 0,0,0,0,0, 0,0,0,0,0, 0,3,0,0,0],
[0,0,0,0,0, 2,25,3,0,0, 0,0,0,0,0, 0,0,0,0,0, 0,0,0,0,0, 0,0,0,0,0, 0,0,0,0,0, 0,0,0,0,0, 0,0,3,11.6,5],
[0,0,0,0,0, 0,0,0,0,0, 0,0,0,0,0, 0,0,0,0,0, 0,0,0,0,0, 0,0,0,0,0, 0,0,0,0,1, 6.6,1.5,0,0,0, 0,0,0,0,2.5],
[0,0,0,0,0, 0,0,0,0,0, 0,0,0,0,0, 0,0,0,0,0, 0,0,0,0,0, 0,0,0,1.2,5.2, .8,0,0,0,0, 0,0,0,0,0, 0,0,0,0,0],
[0,0,0,0,0, 0,0,0,0,0, 0,0,0,0,1, 0,0,0,0,0, 0,0,0,0,0, 0,0,0,0,0, 0,0,0,0,0, 0,0,1,0,0, 0,0,0,0,0],
[0,0,0,0,0, 0,0,0,0,0, 0,0,0,0,0, 0,0,0,0,0, 0,1,6.5,1.2,0, 0,0,0,0,0, 0,0,0,0,0, 0,0,0,0,0, 0,0,0,0,0],
[0,0,0,0,0, 0,0,0,0,0, 0,0,0,0,0, 0,0,0,0,0, 0,0,0,0,0, 0,0,1,6.3,1.5, 0,0,0,0,0, 0,0,0,0,0, 0,0,0,0,0],
[0,0,0,0,0, 0,0,0,0,1.5, 0,0,0,0,0, 2,0,0,0,0, 0,0,0,0,0, 0,0,0,0,0, 0,0,0,.8,0, 0,0,0,0,0, 0,0,0,0,0],
[0,0,0,0,0, 0,0,1.8,0,0, 0,0,0,0,0, 0,0,0,0,0, .8,0,0,0,0, 0,0,0,0,0, 0,0,0,0,0, 0,0,0,1.5,0, 0,0,0,0,0],
[0,0,0,0,0, 0,0,2.5,0,0, 0,0,0,0,0, 0,0,0,0,0, 0,0,0,0,0, 0,0,0,0,0, 0,0,0,1,0, 0,0,0,0,0, 1.2,0,0,0,0],
[0,0,0,0,0, 0,0,0,0,0, 0,0,0,0,0, 1,0,0,0,0, 0,0,0,0,0, 0,0,0,0,0, 0,0,0,0,0, 2,20,4.2,6.2,8.8, 2,0,0,0,0],
[0,0,0,0,0, 0,0,0,0,0, 0,0,0,0,0, 0,0,0,1,0, 0,0,0,0,0, 0,0,0,0,0, 1.2,0,0,0,0, 0,0,0,0,0, 0,0,0,0,0],
[0,0,0,0,1, 0,0,0,0,0, 0,0,0,0,0, 0,0,0,0,0, 0,0,0,0,0, 0,0,0,0,0, 0,0,1.5,10.5,10.9, 3,0,0,0,0, 0,0,0,0,0],
[0,0,0,0,0, 0,1.5,11.4,2,0, 0,0,0,0,0, 0,0,1.5,7.2,1, 0,0,0,0,0, 0,0,0,0,0, 0,0,0,0,0, 0,0,0,0,0, 0,0,0,0,0],
[0,0,0,0,0, 0,0,0,0,0, 0,0,0,0,0, 0,0,0,0,0, 0,0,1,0,0, 0,0,0,0,0, 0,0,0,0,0, 0,0,0,0,0, 0,1.5,0,0,0],
[0,0,0,0,0, 0,0,0,0,0, 0,0,0,0,0, 0,0,0,0,0, 1.5,11.7,2,0,0, 0,0,0,0,0, 0,0,0,0,1, 0,0,0,0,0, 0,0,0,0,0],
[0,0,0,0,0, 0,0,0,0,0, 0,0,0,0,1.5, 11.4,2,0,0,0, 0,0,0,0,0, 0,0,0,0,0, 0,0,0,0,0, 0,0,0,0,0, 1,5,1.5,0,0],
[0,0,0,0,0, 0,0,1.2,0,0, 0,0,0,0,0, 0,0,0,0,0, 0,0,0,0,0, .8,0,0,0,0, 0,0,0,0,0, 0,0,0,0,0, 0,2,9,2,0],
[.3,2,.5,0,0, 0,0,0,0,0, 0,0,0,0,0, 0,0,0,0,0, 0,0,0,0,0, 0,0,1,0,0, 0,0,0,0,0, 0,0,0,0,0, 0,0,0,0,0],
[0,0,0,0,0, 0,0,0,0,0, 0,0,0,0,0, 0,0,0,0,0, 0,0,0,0,0, 0,0,0,0,0, 1.5,0,0,1,0, 0,0,0,0,0, 0,0,0,0,1.2],
[0,0,0,0,0, 0,0,0,0,0, 0,0,0,0,0, 0,0,0,0,0, 0,0,0,0,0, 0,0,0,0,0, 1,0,0,0,0, 0,0,0,0,1.5, 0,0,0,0,0],
[0,0,0,0,0, 0,0,0,0,0, 0,0,0,0,0, 6.9,1.5,6.2,1,0, 0,0,0,0,0, 0,0,0,0,0, 0,0,0,0,0, 0,0,0,0,0, 0,0,0,2,8],
[0,0,0,0,0, 0,0,0,1,0, 0,0,0,0,0, 0,0,0,0,1.2, 0,0,0,0,0, 0,0,0,0,0, 0,0,0,0,0, 0,0,0,0,0, 0,0,0,0,0],
[0,0,0,0,0, 0,0,1.5,0,0, 0,0,0,0,0, 0,0,0,0,0, 1,0,0,0,0, 0,0,0,0,0, 0,0,0,0,0, 0,0,0,0,0, 0,0,0,0,0],
[0,0,0,0,0, 0,0,0,0,0, 0,0,0,0,0, 0,0,0,0,0, 0,0,0,1,0, 0,0,0,0,0, 0,0,0,0,0, 0,1.2,0,0,0, 0,0,0,0,0],
[.5,6.3,1,0,0, 0,0,0,0,0, 0,0,0,0,0, 0,0,0,0,0, 0,0,0,0,0, 0,0,0,0,0, 0,0,0,0,0, 0,0,0,0,0, 0,0,0,1.5,0],
[0,0,0,0,0, 0,0,0,0,0, 0,0,0,0,0, 0,0,0,0,0, 0,0,0,1,5.4, 1,0,0,0,0, 0,0,0,0,0, 0,0,0,0,0, 0,2,7.5,1.5,0],
[0,0,0,0,0, 0,0,0,0,0, 0,0,0,0,0, 0,0,0,0,0, 0,0,0,0,0, 0,1,0,0,0, 0,0,0,0,0, 0,0,0,1,0, 0,0,0,0,0]
];

// ---------- CHART ----------
const MONO = "'DejaVu Sans Mono', monospace";
const SANS = "'Liberation Sans', Arial, sans-serif";
const T_MIN = -52.571, T_MAX = 33.143;     // left axis (°C) spans the whole plot
const P_MIN = T_MIN + 45, P_MAX = T_MAX + 45; // right axis (mm)
const PLUS = 'path://M2,0H3V2H5V3H3V5H2V3H0V2H2Z';
const pair = (hs, vs) => vs.map((v, i) => [hs[i], v]);

const gridLineValues = [30,25,20,15,10,5,0,-5,-10,-15,-20,-25,-30,-35,-40,-45];
const series = [];

function member(data, axis, color) {
  return { type: 'line', data, yAxisIndex: axis, color, silent: true, animation: false,
    lineStyle: { width: 1 }, symbol: PLUS, symbolSize: 4, showSymbol: true, z: 2 };
}
t850Members.forEach((v, i) => series.push(member(pair(hours12, v), 0, memberColors[i])));
t500Members.forEach((v, i) => series.push(member(pair(hours12, v), 0, memberColors[i])));
precipMembers.forEach((v, i) => series.push(member(pair(hoursPrecipMembers, v), 1, memberColors[i])));

function main(data, axis, color, w) {
  return { type: 'line', data, yAxisIndex: axis, color, silent: true, animation: false,
    lineStyle: { width: w }, showSymbol: false, symbol: 'none', z: 3 };
}
series.push(main(pair(hours6, ctrl850), 0, '#0000ff', 3));
series.push(main(pair(hours6, ctrl500), 0, '#0000ff', 3));
series.push(main(pair(hoursPrecip, ctrlPrecip), 1, '#0000ff', 3));
series.push(main(pair(hours6, cep850), 0, '#000000', 4));
series.push(main(pair(hours6, cep500), 0, '#000000', 4));
series.push(main(pair(hoursPrecip, cepPrecip), 1, '#000000', 4));
const meanSeries = main(pair(hours6, mean850), 0, '#ff0000', 5);
meanSeries.markLine = {
  silent: true, symbol: 'none', z: 1, animation: false, label: { show: false },
  data: gridLineValues.map(v => ({ yAxis: v, lineStyle: {
    type: 'solid',
    color: v === 0 ? '#a4a4a4' : '#c4c4c4',
    width: v === 0 ? 3 : (v % 10 === 0 ? 2 : 1) } }))
};
series.push(meanSeries);
series.push(main(pair(hours6, mean500), 0, '#ff0000', 5));
series.push(main(pair(hoursPrecip, meanPrecip), 1, '#ff0000', 5));

// ---------- graphic (texts, legend, palette) ----------
const g = [];
const txt = (x, y, text, font, extra) => g.push(Object.assign({ type: 'text', x, y, z: 100, silent: true,
  style: { text, font, fill: '#000', align: 'left', verticalAlign: 'middle' } }, extra || {}));
txt(60, 93, 'Temp. 850hPa', '10px ' + MONO);
txt(60, 271, 'Temp. 500hPa', '10px ' + MONO);
txt(59, 537, 'Précipitations', '10px ' + MONO);
txt(20, 606, '(°C)', '10px ' + MONO);
txt(700, 606, '(mm)', '10px ' + MONO);
// legend
g.push({ type: 'rect', z: 100, shape: { x: 35, y: 634, width: 30, height: 4 }, style: { fill: '#ff0000' } });
g.push({ type: 'rect', z: 100, shape: { x: 225, y: 634, width: 30, height: 4 }, style: { fill: '#0000ff' } });
g.push({ type: 'rect', z: 100, shape: { x: 225, y: 645, width: 30, height: 4 }, style: { fill: '#000000' } });
txt(74, 637, 'Moyenne des scénarios', '10px ' + MONO);
txt(263, 637, 'Run de contrôle', '10px ' + MONO);
txt(263, 647, 'Run CEP/ECMWF', '10px ' + MONO);
txt(370, 652, '50 Perts.', '10px ' + MONO);
// member palette
for (let i = 0; i < 25; i++) {
  const x = 430 + i * 11;
  g.push({ type: 'rect', z: 100, shape: { x, y: 645, width: 11, height: 7 }, style: { fill: memberColors[i] } });
  g.push({ type: 'rect', z: 100, shape: { x, y: 652, width: 11, height: 7 }, style: { fill: memberColors[i + 25] } });
  g.push({ type: 'text', z: 100, x: x + 5.5, y: 639.5, style: { text: memberNames[i], font: 'bold 8px ' + MONO, fill: '#000', align: 'center', verticalAlign: 'middle' } });
  g.push({ type: 'text', z: 100, x: x + 5.5, y: 662.5, style: { text: memberNames[i + 25], font: 'bold 8px ' + MONO, fill: '#000', align: 'center', verticalAlign: 'middle' } });
}
// title box
g.push({ type: 'rect', z: 100, shape: { x: 20.5, y: 668.5, width: 419, height: 30 }, style: { fill: 'none', stroke: '#000', lineWidth: 1 } });
txt(30, 677, 'Diagramme ensembles ECMWF/CEP 0.25° sur 360h pour Lyon', 'bold 11.4px ' + MONO);
txt(30, 692, 'Températures 850hPa et 500hPa (°C) , précipitations (mm)', '10px ' + MONO);
txt(449, 676, 'Ensemble ECMWF/CEP du 26/08/2024 - 00Z', '10px ' + MONO);
txt(449, 692, 'Copyright 2024 Meteociel.fr - ECMWF', 'bold 11.7px ' + MONO);

const chart = echarts.init(document.getElementById('c'), null, { renderer: 'canvas', width: 740, height: 700 });
chart.setOption({
  animation: false,
  backgroundColor: '#ffffff',
  grid: { left: 50, right: 50, top: 0, bottom: 100, containLabel: false },
  xAxis: {
    type: 'value', min: 0, max: 360, interval: 24,
    axisLine: { show: true, onZero: false, lineStyle: { color: '#c0c0c0', width: 1 } },
    axisTick: { show: false },
    splitLine: { show: true, lineStyle: { color: '#c0c0c0', width: 1 } },
    axisLabel: { rotate: 90, margin: 3, fontFamily: SANS, fontSize: 10, color: '#000',
      formatter: v => dateLabels[Math.round(v / 24)] }
  },
  yAxis: [
    { type: 'value', min: T_MIN, max: T_MAX, position: 'left',
      axisLine: { show: false }, axisTick: { show: false }, splitLine: { show: false },
      axisLabel: { customValues: tempTicks, margin: 18, fontFamily: SANS, fontSize: 11, color: '#000',
        formatter: v => String(Math.round(v)) } },
    { type: 'value', min: P_MIN, max: P_MAX, position: 'right',
      axisLine: { show: false }, axisTick: { show: false }, splitLine: { show: false },
      axisLabel: { customValues: precipTicks, margin: 19, fontFamily: SANS, fontSize: 11, color: '#000',
        formatter: v => String(Math.round(v)) } }
  ],
  graphic: g,
  series
});
</script></body></html>
